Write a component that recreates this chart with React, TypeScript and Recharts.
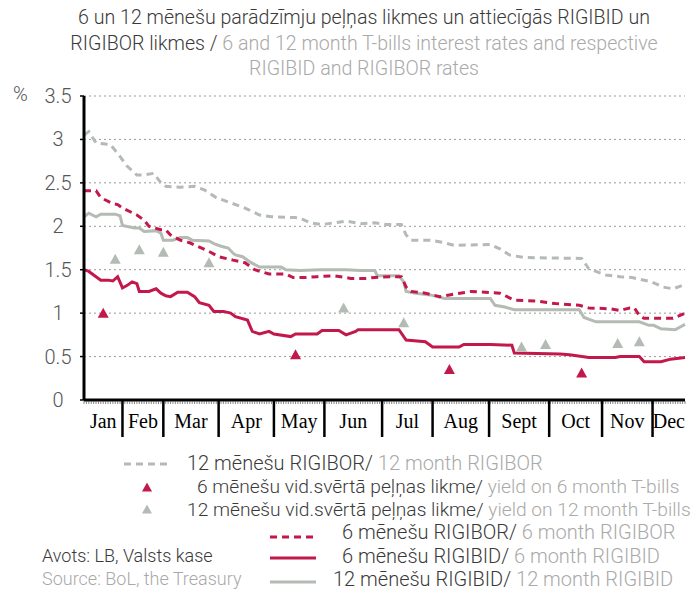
import { ComposedChart, Line, Scatter, XAxis, YAxis, CartesianGrid } from "recharts";

// x = trading day of the year (0..250), y = %
const rigibor12 = [
  [0, 3.05], [2, 3.09], [5, 2.96], [11, 2.94], [14, 2.84], [18, 2.69], [22, 2.59], [25, 2.59],
  [29, 2.61], [32, 2.5], [34, 2.46], [40, 2.45], [46, 2.46], [50, 2.42], [55, 2.33], [61, 2.27],
  [67, 2.21], [73, 2.13], [78, 2.11], [88, 2.1], [91, 2.08], [94, 2.04], [99, 2.02], [104, 2.04],
  [109, 2.06], [115, 2.03], [121, 2.04], [126, 2.02], [132, 2.02], [134, 1.9], [136, 1.84],
  [144, 1.84], [150, 1.81], [154, 1.78], [169, 1.79], [173, 1.74], [177, 1.67], [183, 1.64],
  [207, 1.63], [210, 1.51], [217, 1.44], [223, 1.42], [228, 1.41], [236, 1.36], [241, 1.3],
  [245, 1.28], [250, 1.33],
];
const rigibor6 = [
  [0, 2.41], [5, 2.41], [7, 2.33], [12, 2.26], [14, 2.25], [16, 2.21], [19, 2.17], [22, 2.13],
  [25, 2.07], [27, 2.0], [32, 1.96], [34, 1.96], [36, 1.9], [40, 1.84], [44, 1.81], [48, 1.76],
  [52, 1.71], [56, 1.65], [62, 1.61], [67, 1.58], [71, 1.5], [77, 1.45], [84, 1.45], [87, 1.41],
  [92, 1.41], [97, 1.42], [104, 1.43], [111, 1.4], [117, 1.4], [121, 1.41], [127, 1.42],
  [132, 1.42], [134, 1.3], [136, 1.25], [142, 1.23], [148, 1.19], [152, 1.21], [161, 1.25],
  [173, 1.23], [179, 1.15], [188, 1.14], [196, 1.11], [206, 1.09], [210, 1.06], [219, 1.05],
  [223, 1.03], [227, 1.06], [229, 1.06], [231, 0.97], [233, 0.94], [245, 0.94], [250, 1.0],
];
const rigibid6 = [
  [0, 1.5], [2, 1.48], [5, 1.42], [7, 1.38], [10, 1.38], [12, 1.37], [14, 1.42], [16, 1.29],
  [18, 1.32], [20, 1.36], [22, 1.34], [23, 1.25], [27, 1.25], [30, 1.28], [32, 1.23], [34, 1.2],
  [36, 1.19], [39, 1.24], [43, 1.24], [46, 1.19], [48, 1.12], [52, 1.09], [54, 1.02], [58, 1.02],
  [61, 1.0], [63, 0.96], [68, 0.92], [70, 0.79], [73, 0.76], [77, 0.79], [79, 0.76], [86, 0.73],
  [88, 0.76], [97, 0.76], [99, 0.8], [106, 0.8], [109, 0.75], [113, 0.79], [114, 0.81],
  [131, 0.81], [134, 0.69], [142, 0.67], [145, 0.61], [156, 0.61], [158, 0.64], [169, 0.64],
  [178, 0.63], [179, 0.54], [198, 0.53], [202, 0.52], [210, 0.49], [221, 0.49], [223, 0.5],
  [231, 0.5], [233, 0.44], [240, 0.44], [244, 0.47], [250, 0.49],
];
const rigibid12 = [
  [0, 2.11], [2, 2.15], [5, 2.11], [7, 2.14], [13, 2.14], [15, 2.12], [16, 2.01], [21, 1.98],
  [23, 1.98], [25, 1.94], [30, 1.95], [32, 1.92], [33, 1.84], [37, 1.84], [40, 1.87], [43, 1.87],
  [45, 1.84], [52, 1.83], [54, 1.8], [57, 1.77], [60, 1.75], [62, 1.69], [63, 1.67], [66, 1.65],
  [69, 1.59], [73, 1.53], [82, 1.53], [84, 1.5], [90, 1.49], [98, 1.5], [109, 1.5], [115, 1.49],
  [121, 1.49], [122, 1.43], [131, 1.43], [133, 1.36], [134, 1.25], [138, 1.23], [144, 1.21],
  [150, 1.17], [169, 1.17], [171, 1.09], [175, 1.07], [179, 1.04], [206, 1.04], [208, 0.95],
  [213, 0.9], [231, 0.9], [235, 0.86], [237, 0.86], [240, 0.82], [246, 0.81], [248, 0.84],
  [250, 0.87],
];
const yield6 = [[8, 1.0], [88, 0.52], [152, 0.35], [207, 0.31]];
const yield12 = [
  [13, 1.62], [23, 1.73], [33, 1.7], [52, 1.58], [108, 1.06], [133, 0.89], [182, 0.61],
  [192, 0.64], [222, 0.65], [231, 0.67],
];

const months = ["Jan", "Feb", "Mar", "Apr", "May", "Jun", "Jul", "Aug", "Sept", "Oct", "Nov", "Dec"];
const monthEdges = [0, 16, 33, 56, 79, 100, 124, 145, 168.5, 193.5, 215.5, 236.5, 250];
const yTicks = [0, 0.5, 1, 1.5, 2, 2.5, 3, 3.5];

const RED = "#c2184b";
const GREY = "#b4bab4";
const DARK = "#3a3a3a";
const LIGHT = "#a9a9a9";
const SANS = "Roboto, 'Liberation Sans', sans-serif";

const toPts = (arr: number[][]) => arr.map(([d, v]) => ({ d, v }));

const days = Array.from({ length: 251 }, (_, i) => i);
const innerEdges = monthEdges.slice(1, -1);
const labelPos = months.map((_, i) => (monthEdges[i] + monthEdges[i + 1]) / 2 + 0.01);
const xTicks = [...days, ...innerEdges.map((e) => e + 0.001), ...labelPos];

function XTick(props: any) {
  const { x, y, payload } = props;
  const v = payload.value;
  const ei = innerEdges.findIndex((e) => Math.abs(e + 0.001 - v) < 1e-6);
  if (ei >= 0) {
    return <line x1={x} x2={x} y1={y} y2={y + 37} stroke="#000" strokeWidth={2.5} />;
  }
  const li = labelPos.findIndex((p) => Math.abs(p - v) < 1e-6);
  if (li >= 0) {
    return (
      <text x={x} y={y + 28} textAnchor="middle" fontFamily="'Liberation Serif', serif" fontSize={20} fill="#000">
        {months[li]}
      </text>
    );
  }
  return <line x1={x} x2={x} y1={y + 1} y2={y + 4} stroke="#555" strokeWidth={0.7} />;
}

function YTick(props: any) {
  const { y, payload } = props;
  return (
    <text x={58} y={y} dy={7} textAnchor="middle" fontFamily={SANS} fontWeight={300} fontSize={20} fill="#555">
      {payload.value}
    </text>
  );
}

const tri = (color: string) => (p: any) => (
  <polygon points={`${p.cx - 5.5},${p.cy + 4.5} ${p.cx + 5.5},${p.cy + 4.5} ${p.cx},${p.cy - 5.5}`} fill={color} />
);

function LegendLine({ color, dash }: { color: string; dash?: string }) {
  return (
    <svg width={46} height={10} style={{ display: "block" }}>
      <line x1={0} x2={46} y1={5} y2={5} stroke={color} strokeWidth={3} strokeDasharray={dash} />
    </svg>
  );
}

function LegendTri({ color }: { color: string }) {
  return (
    <svg width={12} height={10} style={{ display: "block" }}>
      <polygon points="1,9.5 11,9.5 6,0.5" fill={color} />
    </svg>
  );
}

const rowStyle = (top: number, left: number, size = 20): any => ({
  position: "absolute",
  top,
  left,
  fontSize: size,
  fontFamily: SANS,
  fontWeight: 300,
  whiteSpace: "nowrap",
  lineHeight: "22px",
});

export default function App() {
  return (
    <div style={{ position: "relative", width: 694, height: 591, background: "#fff", fontFamily: SANS }}>
      <style>{`body{margin:0}`}</style>
      <div
        style={{
          position: "absolute",
          top: 5,
          left: 34,
          width: 660,
          textAlign: "center",
          fontSize: 19.6,
          fontWeight: 300,
          lineHeight: "25.5px",
          color: DARK,
        }}
      >
        6 un 12 mēnešu parādzīmju peļņas likmes un attiecīgās RIGIBID un
        <br />
        RIGIBOR likmes / <span style={{ color: LIGHT }}>6 and 12 month T-bills interest rates and respective</span>
        <br />
        <span style={{ color: LIGHT }}>RIGIBID and RIGIBOR rates</span>
      </div>
      <div style={{ position: "absolute", top: 82, left: 13, fontSize: 20, fontWeight: 300, color: "#555" }}>%</div>

      <ComposedChart width={694} height={591} margin={{ top: 96, right: 9, bottom: 151, left: 24 }}>
        <CartesianGrid vertical={false} stroke="#9a9a9a" strokeDasharray="2 3" strokeWidth={1} />
        <XAxis
          type="number"
          dataKey="d"
          domain={[0, 250]}
          ticks={xTicks}
          interval={0}
          height={40}
          tickLine={false}
          tickSize={0}
          tickMargin={0}
          axisLine={{ stroke: "#000", strokeWidth: 3 }}
          tick={<XTick />}
        />
        <YAxis
          type="number"
          dataKey="v"
          domain={[0, 3.5]}
          ticks={yTicks}
          interval={0}
          width={60}
          tickSize={4}
          tickLine={{ stroke: "#000", strokeWidth: 1.5 }}
          axisLine={{ stroke: "#000", strokeWidth: 3 }}
          tick={<YTick />}
        />
        <Line data={toPts(rigibor12)} dataKey="v" type="linear" stroke={GREY} strokeWidth={3} strokeDasharray="7 5" dot={false} isAnimationActive={false} />
        <Line data={toPts(rigibid12)} dataKey="v" type="linear" stroke={GREY} strokeWidth={3} dot={false} isAnimationActive={false} />
        <Line data={toPts(rigibor6)} dataKey="v" type="linear" stroke={RED} strokeWidth={3} strokeDasharray="7 5" dot={false} isAnimationActive={false} />
        <Line data={toPts(rigibid6)} dataKey="v" type="linear" stroke={RED} strokeWidth={3} dot={false} isAnimationActive={false} />
        <Scatter data={toPts(yield12)} dataKey="v" shape={tri(GREY)} isAnimationActive={false} />
        <Scatter data={toPts(yield6)} dataKey="v" shape={tri(RED)} isAnimationActive={false} />
      </ComposedChart>

      <div style={{ position: "absolute", top: 459, left: 124 }}>
        <LegendLine color={GREY} dash="7 5" />
      </div>
      <div style={{ ...rowStyle(452, 187), color: DARK }}>
        12 mēnešu RIGIBOR/ <span style={{ color: LIGHT }}>12 month RIGIBOR</span>
      </div>

      <div style={{ position: "absolute", top: 482, left: 141 }}>
        <LegendTri color={RED} />
      </div>
      <div style={{ ...rowStyle(476, 197, 19.2), color: DARK }}>
        6 mēnešu vid.svērtā peļņas likme/ <span style={{ color: LIGHT }}>yield on 6 month T-bills</span>
      </div>

      <div style={{ position: "absolute", top: 504, left: 141 }}>
        <LegendTri color={GREY} />
      </div>
      <div style={{ ...rowStyle(499, 187, 19.2), color: DARK }}>
        12 mēnešu vid.svērtā peļņas likme/ <span style={{ color: LIGHT }}>yield on 12 month T-bills</span>
      </div>

      <div style={{ position: "absolute", top: 532, left: 270 }}>
        <LegendLine color={RED} dash="7 5" />
      </div>
      <div style={{ ...rowStyle(521, 342), color: DARK }}>
        6 mēnešu RIGIBOR/ <span style={{ color: LIGHT }}>6 month RIGIBOR</span>
      </div>

      <div style={{ position: "absolute", top: 553, left: 270 }}>
        <LegendLine color={RED} />
      </div>
      <div style={{ ...rowStyle(545, 342), color: DARK }}>
        6 mēnešu RIGIBID/ <span style={{ color: LIGHT }}>6 month RIGIBID</span>
      </div>

      <div style={{ position: "absolute", top: 577, left: 270 }}>
        <LegendLine color={GREY} />
      </div>
      <div style={{ ...rowStyle(568, 333), color: DARK }}>
        12 mēnešu RIGIBID/ <span style={{ color: LIGHT }}>12 month RIGIBID</span>
      </div>

      <div style={{ ...rowStyle(545, 42, 18), color: DARK }}>Avots: LB, Valsts kase</div>
      <div style={{ ...rowStyle(568, 42, 18), color: LIGHT }}>Source: BoL, the Treasury</div>
    </div>
  );
}
